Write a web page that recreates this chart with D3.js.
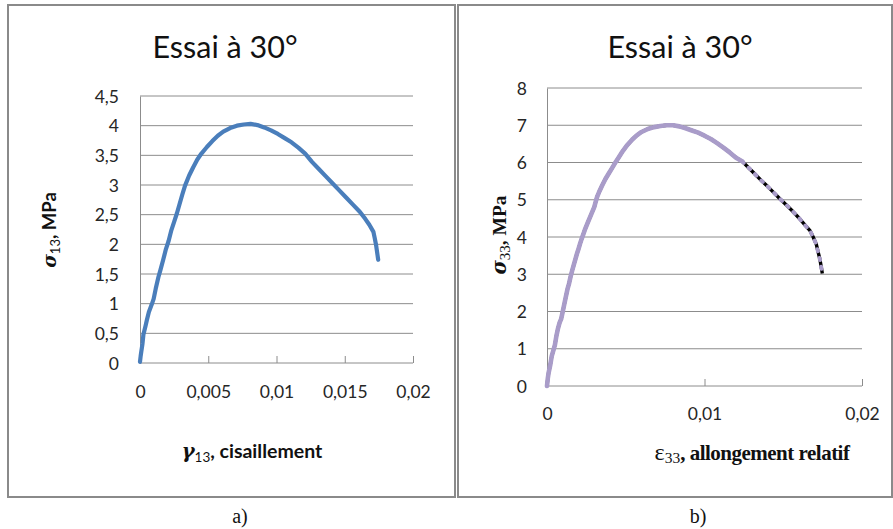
<!DOCTYPE html>
<html>
<head>
<meta charset="utf-8">
<script src="https://cdn.jsdelivr.net/npm/d3@7"></script>
<style>
  html, body { margin: 0; padding: 0; background: #fff; }
  svg { display: block; }
  .tick-label { font-family: Lato, "Open Sans", sans-serif; font-size: 17.5px; fill: #262626; }
  .title { font-family: Lato, "Open Sans", sans-serif; font-size: 30.5px; fill: #111; }
</style>
</head>
<body>
<svg id="fig" width="893" height="529"></svg>
<script>
// ---- Test at 30°: shear response (a) ----
const gamma13 = [0, 0.00005, 0.0001, 0.00018, 0.00025, 0.0004, 0.0005, 0.00065, 0.00085, 0.001,
  0.00115, 0.00135, 0.0015, 0.0017, 0.0019, 0.0021, 0.0023, 0.0025, 0.0027, 0.0029,
  0.0031, 0.0033, 0.0036, 0.0039, 0.0042, 0.0045, 0.0049, 0.0053, 0.0057, 0.0061,
  0.0066, 0.0071, 0.0076, 0.0081, 0.0086, 0.0091, 0.0096, 0.0101, 0.0106, 0.0111,
  0.0116, 0.0121, 0.0126, 0.0131, 0.0136, 0.0141, 0.0146, 0.0151, 0.0156, 0.0161,
  0.0165, 0.0168, 0.0171, 0.0172, 0.0173, 0.01735, 0.0174, 0.01745];
const sigma13 = [0.02, 0.12, 0.2, 0.32, 0.48, 0.62, 0.72, 0.86, 0.98, 1.08,
  1.25, 1.45, 1.57, 1.74, 1.92, 2.06, 2.24, 2.38, 2.52, 2.68,
  2.84, 2.99, 3.16, 3.3, 3.43, 3.53, 3.64, 3.74, 3.83, 3.9,
  3.96, 4.0, 4.02, 4.03, 4.01, 3.97, 3.92, 3.86, 3.79, 3.72,
  3.63, 3.53, 3.39, 3.27, 3.15, 3.03, 2.91, 2.79, 2.67, 2.55,
  2.43, 2.33, 2.21, 2.1, 1.98, 1.9, 1.82, 1.74];

// ---- Test at 30°: axial response (b) ----
const eps33 = [0, 0.00005, 0.0001, 0.0002, 0.0003, 0.0004, 0.0005, 0.0006, 0.0007, 0.0008,
  0.0009, 0.001, 0.0011, 0.0012, 0.0013, 0.0014, 0.0015, 0.0016, 0.0017, 0.0018,
  0.0019, 0.002, 0.0021, 0.0022, 0.0023, 0.0024, 0.0026, 0.0028, 0.003, 0.0031,
  0.0032, 0.0033, 0.0035, 0.0037, 0.0039, 0.0041, 0.0043, 0.0045, 0.0048, 0.0051,
  0.0054, 0.0057, 0.006, 0.0064, 0.0068, 0.0072, 0.0076, 0.008, 0.0084, 0.0088,
  0.0092, 0.0096, 0.01, 0.0104, 0.0108, 0.0112, 0.0116, 0.012, 0.0124, 0.0128,
  0.0132, 0.0136, 0.014, 0.0144, 0.0148, 0.0152, 0.0156, 0.016, 0.0164, 0.0167,
  0.0169, 0.0171, 0.0172, 0.0173, 0.01735, 0.0174, 0.01745, 0.01748];
const sigma33 = [0.0, 0.2, 0.35, 0.55, 0.8, 0.95, 1.1, 1.35, 1.55, 1.7,
  1.8, 2.0, 2.2, 2.4, 2.6, 2.75, 2.94, 3.1, 3.25, 3.4,
  3.55, 3.68, 3.82, 3.95, 4.07, 4.19, 4.4, 4.6, 4.8, 4.96,
  5.1, 5.2, 5.38, 5.55, 5.69, 5.83, 5.97, 6.1, 6.3, 6.47,
  6.61, 6.73, 6.82, 6.9, 6.95, 6.98, 7.0, 7.0, 6.97, 6.92,
  6.86, 6.8, 6.72, 6.63, 6.52, 6.4, 6.27, 6.13, 6.03, 5.86,
  5.69, 5.52, 5.36, 5.19, 5.02, 4.86, 4.69, 4.51, 4.31, 4.17,
  4.0, 3.8, 3.62, 3.45, 3.35, 3.22, 3.1, 3.02];

// axis ticks
const xTicksA = [0, 0.005, 0.01, 0.015, 0.02];
const yTicksA = [0, 0.5, 1, 1.5, 2, 2.5, 3, 3.5, 4, 4.5];
const xTicksB = [0, 0.01, 0.02];
const yTicksB = [0, 1, 2, 3, 4, 5, 6, 7, 8];

const chartTitle = "Essai à 30°";
const captions = ["a)", "b)"];

// numbers with a decimal comma
const fmt = v => String(+v.toFixed(6)).replace(".", ",");

const svg = d3.select("#fig");

// panel frames
const frameColor = "#8a8a8a";
svg.append("rect").attr("x", 8).attr("y", 5).attr("width", 447).attr("height", 492)
  .attr("fill", "none").attr("stroke", frameColor).attr("stroke-width", 2);
svg.append("rect").attr("x", 458).attr("y", 5).attr("width", 434).attr("height", 492)
  .attr("fill", "none").attr("stroke", frameColor).attr("stroke-width", 2);

function panel(cfg) {
  const g = svg.append("g");
  const x = d3.scaleLinear().domain(cfg.xDomain).range([cfg.left, cfg.right]);
  const y = d3.scaleLinear().domain(cfg.yDomain).range([cfg.bottom, cfg.top]);

  // horizontal gridlines
  g.append("g").selectAll("line").data(cfg.yTicks.filter(v => v > 0)).join("line")
    .attr("x1", cfg.left).attr("x2", cfg.right)
    .attr("y1", d => y(d)).attr("y2", d => y(d))
    .attr("stroke", "#8c8c8c").attr("stroke-width", 1);

  // y axis
  const ya = d3.axisLeft(y).tickValues(cfg.yTicks).tickSize(0).tickPadding(cfg.yPad).tickFormat(fmt);
  const yg = g.append("g").attr("transform", `translate(${cfg.left},0)`).call(ya);
  yg.select(".domain").attr("stroke", "#8c8c8c");
  yg.selectAll("text").attr("class", "tick-label").attr("dy", "0.35em");

  // x axis, ticks pointing up into the plot
  const xa = d3.axisBottom(x).tickValues(cfg.xTicks).tickSize(-7).tickPadding(cfg.xPad).tickFormat(fmt);
  const xg = g.append("g").attr("transform", `translate(0,${cfg.bottom})`).call(xa);
  xg.select(".domain").attr("stroke", "#8c8c8c").attr("d", `M${cfg.left},0H${cfg.right}`);
  xg.selectAll(".tick line").attr("stroke", "#8c8c8c");
  xg.selectAll("text").attr("class", "tick-label").attr("dy", "0.71em");

  // title
  g.append("text").attr("class", "title").attr("x", cfg.titleX).attr("y", cfg.titleY)
    .attr("text-anchor", "middle").text(chartTitle);

  return {g, x, y};
}

// ---------- panel a ----------
const A = panel({xDomain: [0, 0.02], yDomain: [0, 4.5], left: 140, right: 413, top: 96, bottom: 363,
  xTicks: xTicksA, yTicks: yTicksA, yPad: 21, xPad: 23, titleX: 225, titleY: 58});

const lineA = d3.line().x(d => A.x(d[0])).y(d => A.y(d[1])).curve(d3.curveLinear);
A.g.append("path").datum(gamma13.map((v, i) => [v, sigma13[i]]))
  .attr("d", lineA).attr("fill", "none").attr("stroke", "#4a7ebb")
  .attr("stroke-width", 4.2).attr("stroke-linejoin", "round").attr("stroke-linecap", "round");

// y label a
const ylA = A.g.append("text").attr("transform", "translate(56,230) rotate(-90)")
  .attr("text-anchor", "middle").attr("font-weight", "bold").attr("font-size", 18.5).attr("fill", "#111");
ylA.append("tspan").attr("font-family", "'DejaVu Serif', serif").attr("font-style", "italic").text("σ");
ylA.append("tspan").attr("font-family", "Lato, sans-serif").attr("font-size", 13).attr("font-weight", "normal").attr("dy", 4).text("13");
ylA.append("tspan").attr("font-family", "Lato, sans-serif").attr("dy", -4).text(", MPa");

// x label a
const xlA = A.g.append("text").attr("x", 252).attr("y", 458)
  .attr("text-anchor", "middle").attr("font-weight", "bold").attr("font-size", 19.5).attr("fill", "#111");
xlA.append("tspan").attr("font-family", "'DejaVu Serif', serif").attr("font-style", "italic").text("γ");
xlA.append("tspan").attr("font-family", "Lato, sans-serif").attr("font-size", 13.5).attr("font-weight", "normal").attr("dy", 4).text("13");
xlA.append("tspan").attr("font-family", "Lato, sans-serif").attr("dy", -4).text(", cisaillement");

// ---------- panel b ----------
const B = panel({xDomain: [0, 0.02], yDomain: [0, 8], left: 547, right: 862, top: 88, bottom: 386,
  xTicks: xTicksB, yTicks: yTicksB, yPad: 20, xPad: 22, titleX: 680, titleY: 58});

const ptsB = eps33.map((v, i) => [v, sigma33[i]]);
const lineB = d3.line().x(d => B.x(d[0])).y(d => B.y(d[1]));
// dark trace underneath
B.g.append("path").datum(ptsB).attr("d", lineB).attr("fill", "none")
  .attr("stroke", "#000").attr("stroke-width", 3.4).attr("stroke-linejoin", "round");
// lavender line, continuous up to the softening branch, broken after it
const split = 0.0122;
B.g.append("path").datum(ptsB.filter(d => d[0] <= split + 0.0003)).attr("d", lineB).attr("fill", "none")
  .attr("stroke", "#a99cc9").attr("stroke-width", 4.6).attr("stroke-linejoin", "round").attr("stroke-linecap", "round");
B.g.append("path").datum(ptsB.filter(d => d[0] >= split)).attr("d", lineB).attr("fill", "none")
  .attr("stroke", "#a99cc9").attr("stroke-width", 4).attr("stroke-dasharray", "2,7").attr("stroke-linecap", "round");

// y label b
const ylB = B.g.append("text").attr("transform", "translate(506,235) rotate(-90)")
  .attr("text-anchor", "middle").attr("font-weight", "bold").attr("font-size", 19.5)
  .attr("font-family", "'Liberation Serif', serif").attr("fill", "#111");
ylB.append("tspan").attr("font-family", "'DejaVu Serif', serif").attr("font-style", "italic").text("σ");
ylB.append("tspan").attr("font-size", 15).attr("font-weight", "normal").attr("dy", 4).text("33");
ylB.append("tspan").attr("dy", -4).text(", MPa");

// x label b
const xlB = B.g.append("text").attr("x", 752).attr("y", 460)
  .attr("text-anchor", "middle").attr("font-weight", "bold").attr("font-size", 21)
  .attr("font-family", "'Liberation Serif', serif").attr("fill", "#111");
xlB.append("tspan").attr("font-weight", "normal").attr("font-size", 24).text("ε");
xlB.append("tspan").attr("font-size", 15.5).attr("font-weight", "normal").attr("dy", 3).text("33");
xlB.append("tspan").attr("dy", -3).attr("letter-spacing", "-0.5").text(", allongement relatif");

// captions
svg.selectAll("text.cap").data(captions).join("text").attr("class", "cap")
  .attr("x", (d, i) => i === 0 ? 240 : 698).attr("y", 523)
  .attr("text-anchor", "middle").attr("font-family", "'Liberation Serif', serif")
  .attr("font-size", 20).attr("fill", "#111").text(d => d);
</script>
</body>
</html>
